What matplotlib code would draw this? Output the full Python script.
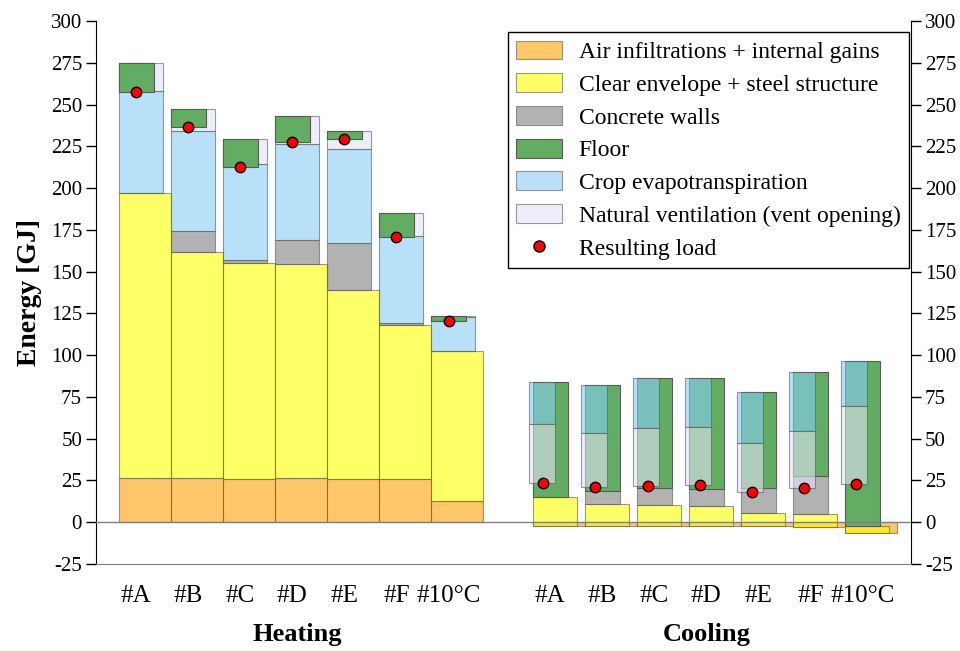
import numpy as np
import matplotlib.pyplot as plt
from matplotlib.patches import Patch
from matplotlib.lines import Line2D

plt.rcParams['font.family'] = ['Liberation Serif', 'DejaVu Serif']
plt.rcParams['axes.unicode_minus'] = False

cases = ['#A', '#B', '#C', '#D', '#E', '#F', '#10°C']

# heating contributions [GJ] (waterfall: air, envelope, concrete, crop, vent, floor)
h_air = [26.3, 26.3, 25.7, 26.3, 25.7, 25.7, 12.9]
h_envelope = [170.6, 135.2, 129.2, 128.1, 113.2, 92.5, 89.4]
h_concrete = [0.0, 13.1, 2.0, 14.3, 28.3, 0.8, 0.0]
h_crop = [61.5, 59.4, 57.6, 57.7, 56.5, 52.2, 20.7]
h_vent = [16.3, 13.2, 15.2, 16.5, 10.3, 14.2, 0.3]
h_floor = [-17.3, -10.7, -16.8, -15.4, -4.8, -14.5, -3.1]

# cooling contributions [GJ] (waterfall: air, envelope, concrete, floor, crop, vent)
c_air = [-2.0, -2.2, -2.2, -2.0, -2.0, -3.0, -6.6]
c_envelope = [17.1, 13.0, 12.5, 11.6, 7.4, 8.2, 4.4]
c_concrete = [0.0, 7.7, 10.0, 10.1, 14.9, 22.3, 0.0]
c_floor = [68.6, 63.6, 65.8, 66.6, 57.5, 62.6, 98.7]
c_crop = [-24.9, -28.5, -29.9, -29.1, -30.6, -35.3, -26.8]
c_vent = [-35.4, -32.6, -34.6, -35.1, -28.9, -34.3, -46.6]

labels = ['Air infiltrations + internal gains', 'Clear envelope + steel structure',
          'Concrete walls', 'Floor', 'Crop evapotranspiration',
          'Natural ventilation (vent opening)', 'Resulting load']

colors = {'air': ('#fca307', 0.6), 'env': ('#ffff00', 0.6), 'conc': ('#7f7f7f', 0.6),
          'floor': ('#62ad62', 1.0), 'crop': ('#89ccf6', 0.6), 'vent': ('#e3e3f7', 0.6)}
edge = (0.35, 0.35, 0.35, 0.35)

x_heat = np.arange(len(cases), dtype=float)
x_cool = x_heat + 7.95

fig = plt.figure(figsize=(9.6, 6.51), dpi=100)
ax = fig.add_axes([0.1, 0.1336, 0.849, 0.834])


def waterfall(x, parts, dot_dx):
    level = np.zeros(len(x))
    for key, vals, width, dx in parts:
        vals = np.array(vals)
        col, a = colors[key]
        ax.bar(x - 0.33 + dx, vals, width=width, bottom=level, align='edge',
               color=col, alpha=a, edgecolor=edge, linewidth=0.8, zorder=2)
        level = level + vals
    ax.plot(x + dot_dx, level, 'o', color='red', mec='black', mew=1, ms=7.5, zorder=6)


waterfall(x_heat, [('air', h_air, 1.0, 0), ('env', h_envelope, 1.0, 0),
                   ('conc', h_concrete, 0.845, 0), ('crop', h_crop, 0.845, 0),
                   ('vent', h_vent, 0.845, 0), ('floor', h_floor, 0.67, 0)], 0.0)
waterfall(x_cool, [('air', c_air, 1.0, 0), ('env', c_envelope, 0.845, 0),
                   ('conc', c_concrete, 0.67, 0), ('floor', c_floor, 0.67, 0),
                   ('crop', c_crop, 0.5, -0.08), ('vent', c_vent, 0.5, -0.08)], -0.13)

ax.axhline(0, color='#808080', lw=1, zorder=4)

ax.set_xlim(-0.77, 14.88)
ax.set_ylim(-25, 300)
ax.set_yticks(np.arange(-25, 301, 25))
ax.set_xticks(np.concatenate([x_heat, x_cool]))
ax.set_xticklabels(cases + cases, fontsize=18)
ax.tick_params(axis='x', length=0, pad=15)
ax.tick_params(axis='y', direction='out', length=7, width=1, labelsize=15, pad=3,
               right=True, labelright=True)
ax.spines['top'].set_visible(False)
ax.spines['bottom'].set_color('#808080')
ax.set_ylabel('Energy [GJ]', fontsize=20, fontweight='bold', labelpad=6)

ax.text(3.1, -67, 'Heating', ha='center', va='center', fontsize=19, fontweight='bold')
ax.text(10.95, -67, 'Cooling', ha='center', va='center', fontsize=19, fontweight='bold')

handles = []
for key in ['air', 'env', 'conc', 'floor', 'crop', 'vent']:
    col, a = colors[key]
    handles.append(Patch(facecolor=col, alpha=a, edgecolor=(0.35, 0.35, 0.35, 0.6), lw=0.8))
handles.append(Line2D([], [], marker='o', ls='none', color='red', mec='black', mew=1, ms=8))
leg = ax.legend(handles, labels, loc='upper right', bbox_to_anchor=(0.997, 0.979),
                fontsize=17, frameon=True, fancybox=False, framealpha=1,
                handlelength=1.95, handleheight=0.85, handletextpad=0.72,
                labelspacing=0.43, borderpad=0.34, borderaxespad=0)
leg.get_frame().set_edgecolor('black')
leg.get_frame().set_linewidth(1)

fig.savefig('out.png', dpi=100)
